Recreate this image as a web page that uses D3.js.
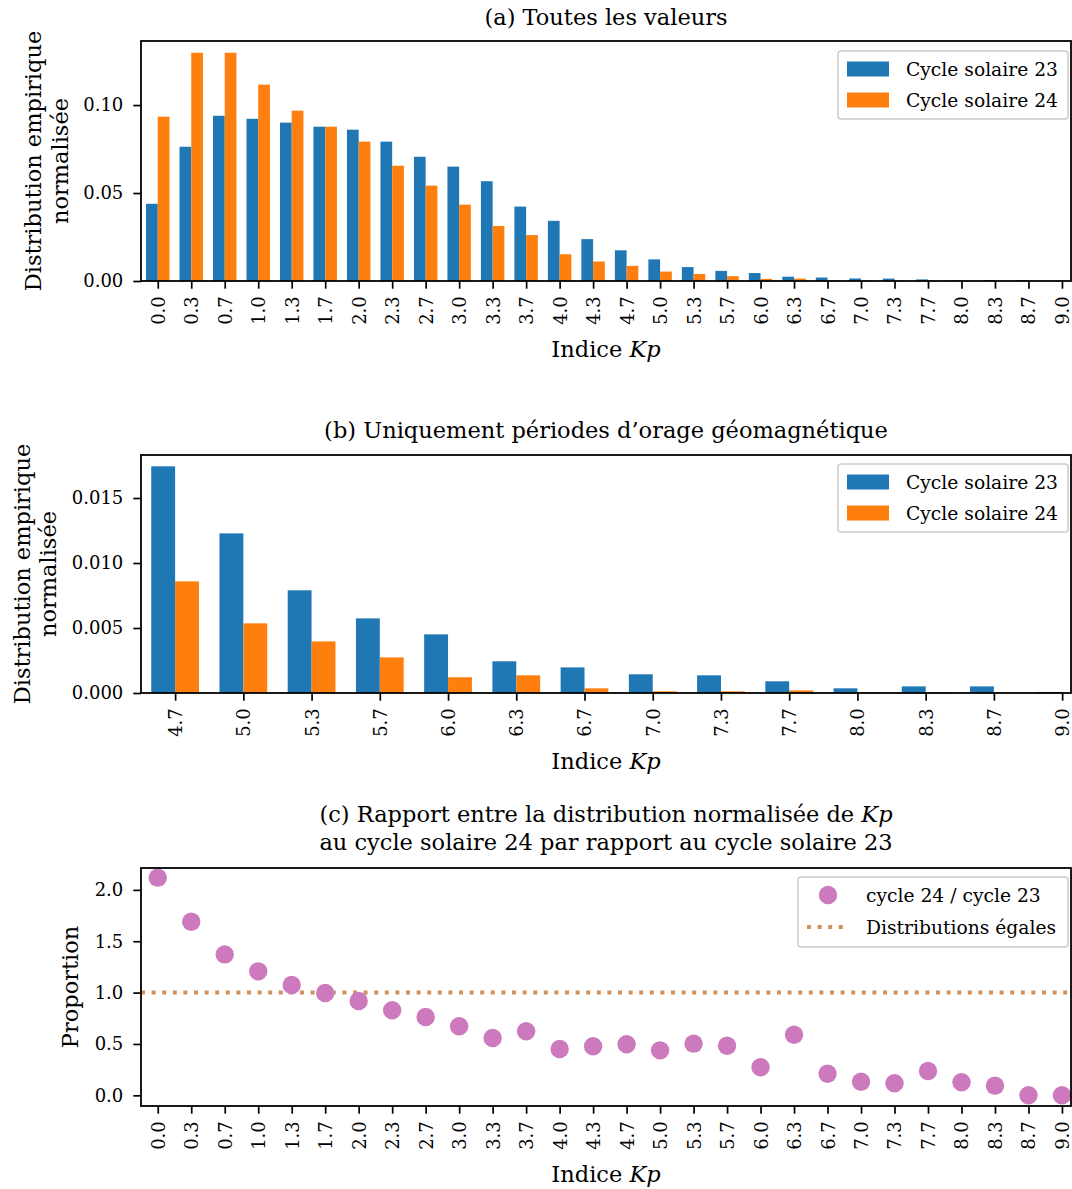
<!DOCTYPE html>
<html>
<head>
<meta charset="utf-8">
<script src="https://cdn.jsdelivr.net/npm/d3@7"></script>
<style>
  html, body { margin: 0; padding: 0; background: #fff; }
  svg { display: block; font-family: "DejaVu Serif", serif; }
</style>
</head>
<body>
<svg id="chart" width="1072" height="1189"></svg>
<script>
// ---------------- DATA ----------------
const kpLabels = ["0.0","0.3","0.7","1.0","1.3","1.7","2.0","2.3","2.7","3.0","3.3","3.7","4.0","4.3",
                  "4.7","5.0","5.3","5.7","6.0","6.3","6.7","7.0","7.3","7.7","8.0","8.3","8.7","9.0"];
const cycle23 = [0.0439,0.0763,0.0939,0.0922,0.0900,0.0877,0.0860,0.0792,0.0706,0.0650,0.0567,0.0423,0.0342,0.0238,
                 0.01744,0.01228,0.00790,0.00574,0.00451,0.00244,0.00197,0.00144,0.00136,0.00090,0.00036,0.00051,0.00051,0.00008];
const cycle24 = [0.0934,0.1297,0.1297,0.1116,0.0968,0.0877,0.0792,0.0655,0.0542,0.0434,0.0313,0.0261,0.0152,0.0111,
                 0.00859,0.00536,0.00397,0.00274,0.00121,0.00136,0.00036,0.00013,0.00013,0.00020,0.00005,0.00005,0,0];
const ratio24over23 = [2.119,1.690,1.372,1.207,1.074,0.996,0.918,0.828,0.762,0.672,0.558,0.623,0.451,0.477,
                       0.497,0.438,0.503,0.483,0.273,0.590,0.210,0.132,0.117,0.237,0.127,0.094,0.0,0.0];
const stormStart = 14; // index of Kp 4.7 (panel b)
const yTicksA = [0, 0.05, 0.10];
const yTicksB = [0, 0.005, 0.010, 0.015];
const yTicksC = [0, 0.5, 1.0, 1.5, 2.0];
const seriesNames = ["Cycle solaire 23", "Cycle solaire 24"];
const ratioNames = ["cycle 24 / cycle 23", "Distributions égales"];
const equalLevel = 1.0;

// ---------------- STYLE ----------------
const C23 = "#1f77b4", C24 = "#ff7f0e", CPT = "#cc7abd", CDOT = "#d0915a";
const L = 141, R = 1071;
const TICK = 7.7;
const FS_TICK = 18, FS_LAB = 22.5, FS_TITLE = 22.5, FS_LEG = 18.7;

const svg = d3.select("#chart");

function frame(g, top, bottom) {
  g.append("rect").attr("x", L).attr("y", top).attr("width", R - L).attr("height", bottom - top)
    .attr("fill", "none").attr("stroke", "#000").attr("stroke-width", 1.8);
}

function xAxis(g, x, n, labels, bottom) {
  const ax = g.append("g").attr("transform", `translate(0,${bottom})`)
    .call(d3.axisBottom(x).tickValues(d3.range(n)).tickFormat(i => labels[i]).tickSize(TICK));
  ax.select(".domain").remove();
  ax.selectAll(".tick line").attr("stroke", "#000").attr("stroke-width", 1.7);
  ax.selectAll(".tick text")
    .attr("transform", "rotate(-90)")
    .attr("text-anchor", "end")
    .attr("x", -(TICK + 7.5)).attr("y", 0).attr("dy", "0.36em")
    .attr("font-size", FS_TICK).attr("font-family", "DejaVu Serif").attr("fill", "#000");
}

function yAxis(g, y, ticks, fmt) {
  const ax = g.append("g").attr("transform", `translate(${L},0)`)
    .call(d3.axisLeft(y).tickValues(ticks).tickFormat(d3.format(fmt)).tickSize(TICK).tickPadding(10));
  ax.select(".domain").remove();
  ax.selectAll(".tick line").attr("stroke", "#000").attr("stroke-width", 1.7);
  ax.selectAll(".tick text").attr("font-size", FS_TICK).attr("font-family", "DejaVu Serif").attr("fill", "#000");
}

function xLabel(g, yPos) {
  const t = g.append("text").attr("x", (L + R) / 2).attr("y", yPos).attr("text-anchor", "middle")
    .attr("font-size", FS_LAB);
  t.append("tspan").text("Indice ");
  t.append("tspan").attr("font-style", "italic").text("Kp");
}

function yLabel(g, lines, xs, cy) {
  lines.forEach((s, i) => {
    g.append("text").attr("transform", `translate(${xs[i]},${cy}) rotate(-90)`)
      .attr("text-anchor", "middle").attr("dy", "0.35em").attr("font-size", FS_LAB).text(s);
  });
}

function title(g, lines, ys) {
  lines.forEach((parts, i) => {
    const t = g.append("text").attr("x", (L + R) / 2).attr("y", ys[i]).attr("text-anchor", "middle")
      .attr("font-size", FS_TITLE);
    parts.forEach(p => t.append("tspan").attr("font-style", p.it ? "italic" : null).text(p.t));
  });
}

function barLegend(g, x0, y0) {
  const w = 230, h = 68;
  g.append("rect").attr("x", x0).attr("y", y0).attr("width", w).attr("height", h).attr("rx", 3)
    .attr("fill", "#fff").attr("fill-opacity", 0.8).attr("stroke", "#cccccc").attr("stroke-width", 1.5);
  [C23, C24].forEach((c, i) => {
    const cy = y0 + 18 + i * 31;
    g.append("rect").attr("x", x0 + 9).attr("y", cy - 7.5).attr("width", 42).attr("height", 15).attr("fill", c);
    g.append("text").attr("x", x0 + 68).attr("y", cy).attr("dy", "0.36em").attr("font-size", FS_LEG).text(seriesNames[i]);
  });
}

function drawBars(g, top, bottom, n, v23, v24, labels, yMax, yTicks, fmt, rightPad, clipId) {
  const x = d3.scaleLinear().domain([-0.5, n - 1 + rightPad]).range([L, R]);
  const y = d3.scaleLinear().domain([0, yMax]).range([bottom, top]);
  const bw = 0.35;
  svg.append("defs").append("clipPath").attr("id", clipId)
    .append("rect").attr("x", L).attr("y", top).attr("width", R - L).attr("height", bottom - top);
  const gb = g.append("g").attr("clip-path", `url(#${clipId})`);
  [[v23, C23, -bw], [v24, C24, 0]].forEach(([vals, col, off]) => {
    gb.selectAll(null).data(vals).enter().append("rect")
      .attr("x", (d, i) => x(i + off))
      .attr("width", x(bw) - x(0))
      .attr("y", d => y(d))
      .attr("height", d => y(0) - y(d))
      .attr("fill", col);
  });
  frame(g, top, bottom);
  xAxis(g, x, n, labels, bottom);
  yAxis(g, y, yTicks, fmt);
}

// ---------------- PANEL (a) ----------------
const gA = svg.append("g");
drawBars(gA, 41, 281, kpLabels.length, cycle23, cycle24, kpLabels, 0.1364, yTicksA, ".2f", 0.27, "clipA");
title(gA, [[{t: "(a) Toutes les valeurs"}]], [25]);
xLabel(gA, 357);
yLabel(gA, ["Distribution empirique", "normalisée"], [33, 60], 161);
barLegend(gA, 838, 51);

// ---------------- PANEL (b) ----------------
const gB = svg.append("g");
const labelsB = kpLabels.slice(stormStart);
drawBars(gB, 455, 693, labelsB.length, cycle23.slice(stormStart), cycle24.slice(stormStart), labelsB,
         0.01831, yTicksB, ".3f", 0.13, "clipB");
title(gB, [[{t: "(b) Uniquement périodes d’orage géomagnétique"}]], [438]);
xLabel(gB, 769);
yLabel(gB, ["Distribution empirique", "normalisée"], [22, 48], 574);
barLegend(gB, 838, 464);

// ---------------- PANEL (c) ----------------
const gC = svg.append("g");
const topC = 868, botC = 1106;
const xC = d3.scaleLinear().domain([-0.5, kpLabels.length - 1 + 0.27]).range([L, R]);
const yC = d3.scaleLinear().domain([-0.104, 2.213]).range([botC, topC]);
svg.append("defs").append("clipPath").attr("id", "clipC")
  .append("rect").attr("x", L).attr("y", topC).attr("width", R - L).attr("height", botC - topC);
const gCp = gC.append("g").attr("clip-path", "url(#clipC)");
gCp.append("line").attr("x1", L).attr("x2", R).attr("y1", yC(equalLevel)).attr("y2", yC(equalLevel))
  .attr("stroke", CDOT).attr("stroke-width", 4).attr("stroke-dasharray", "4 6.6");
gCp.selectAll(null).data(ratio24over23).enter().append("circle")
  .attr("cx", (d, i) => xC(i)).attr("cy", d => yC(d)).attr("r", 9.2)
  .attr("fill", CPT);
frame(gC, topC, botC);
xAxis(gC, xC, kpLabels.length, kpLabels, botC);
yAxis(gC, yC, yTicksC, ".1f");
title(gC, [[{t: "(c) Rapport entre la distribution normalisée de "}, {t: "Kp", it: true}],
           [{t: "au cycle solaire 24 par rapport au cycle solaire 23"}]], [822, 850]);
xLabel(gC, 1182);
yLabel(gC, ["Proportion"], [70], 987);
// legend (c)
(function () {
  const x0 = 798, y0 = 877, w = 270, h = 70;
  gC.append("rect").attr("x", x0).attr("y", y0).attr("width", w).attr("height", h).attr("rx", 3)
    .attr("fill", "#fff").attr("fill-opacity", 0.8).attr("stroke", "#cccccc").attr("stroke-width", 1.5);
  gC.append("circle").attr("cx", x0 + 30).attr("cy", y0 + 18).attr("r", 9.2).attr("fill", CPT);
  gC.append("line").attr("x1", x0 + 9).attr("x2", x0 + 51).attr("y1", y0 + 50).attr("y2", y0 + 50)
    .attr("stroke", CDOT).attr("stroke-width", 4).attr("stroke-dasharray", "4 6.6");
  ratioNames.forEach((s, i) => {
    gC.append("text").attr("x", x0 + 68).attr("y", y0 + 18 + i * 32).attr("dy", "0.36em")
      .attr("font-size", FS_LEG).text(s);
  });
})();
</script>
</body>
</html>
